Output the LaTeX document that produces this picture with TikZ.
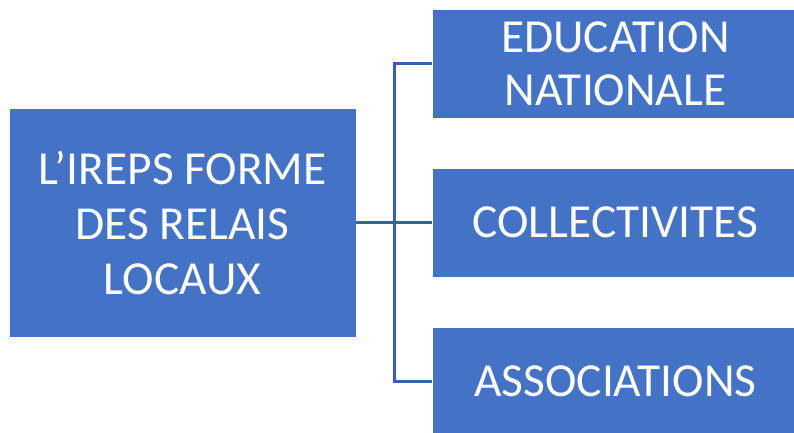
\documentclass[tikz,border=0pt]{standalone}
\usepackage{fontspec}
\setmainfont{Carlito}
\definecolor{boxblue}{HTML}{4472C4}
\definecolor{linkblue}{HTML}{3A5FA3}
\begin{document}
\begin{tikzpicture}[x=1pt,y=-1pt,
  box/.style={fill=boxblue,draw=white,line width=0.8pt,text=white,align=center,inner sep=0pt},
  leftbox/.style={box,minimum width=347pt,minimum height=229pt,font=\fontsize{47.4}{55}\selectfont},
  rightbox/.style={box,minimum width=366pt,minimum height=109pt,font=\fontsize{47.4}{53}\selectfont},
  conn/.style={draw=linkblue,line width=2.3pt}]
\useasboundingbox (0,0) rectangle (794,433);
\node[leftbox] (L) at (182.5,222.5) {L’IREPS FORME\\DES RELAIS\\LOCAUX};
\node[rightbox] (A) at (615.5,63.5) {EDUCATION\\NATIONALE};
\node[rightbox] (B) at (615.5,222.5) {COLLECTIVITES};
\node[rightbox] (C) at (615.5,381.5) {ASSOCIATIONS};
\coordinate (j) at (394.5,222.5);
\draw[conn] (L.east) -- (j);
\draw[conn] (j) -- (B.west);
\draw[conn] (A.west) -| (j) |- (C.west);
\end{tikzpicture}
\end{document}
